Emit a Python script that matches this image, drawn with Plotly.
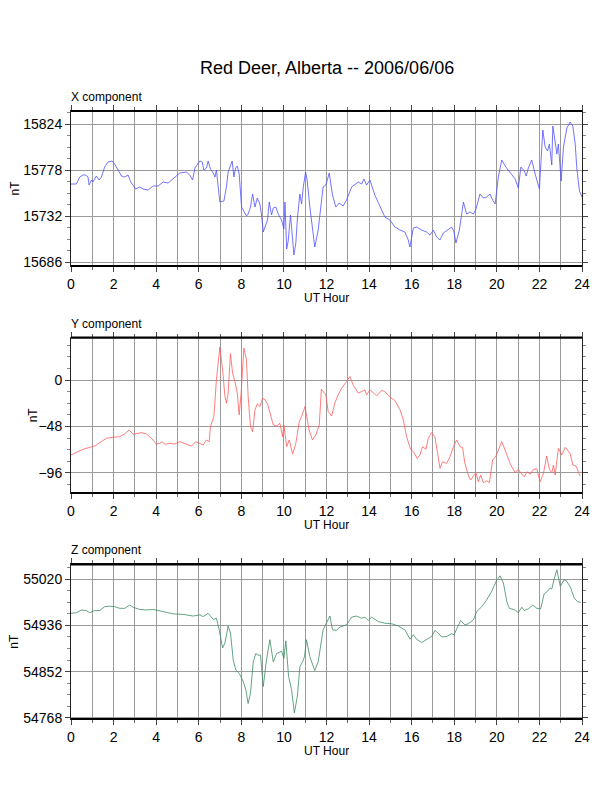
import plotly.graph_objects as go

# --- data (UT hour, nT) ---

x_hours = [0.00, 0.25, 0.41, 0.56, 0.69, 0.80, 0.85, 0.96, 1.03, 1.19, 1.32, 1.43, 1.58, 1.74, 1.93,
           2.05, 2.21, 2.37, 2.52, 2.68, 2.81, 3.04, 3.23, 3.39, 3.62, 3.86, 4.09, 4.33, 4.56, 4.80,
           5.11, 5.42, 5.58, 5.71, 5.82, 6.05, 6.16, 6.24, 6.36, 6.44, 6.55, 6.68, 6.76, 6.83, 6.91,
           6.99, 7.18, 7.30, 7.38, 7.49, 7.57, 7.65, 7.73, 7.81, 7.90, 8.01, 8.09, 8.24, 8.32, 8.43,
           8.53, 8.64, 8.75, 8.87, 8.95, 9.03, 9.11, 9.23, 9.31, 9.42, 9.50, 9.62, 9.73, 9.89, 10.00,
           10.05, 10.13, 10.20, 10.31, 10.41, 10.47, 10.56, 10.64, 10.75, 10.83, 10.91, 11.02, 11.09,
           11.22, 11.45, 11.61, 11.84, 11.97, 12.13, 12.28, 12.44, 12.60, 12.78, 12.94, 13.18, 13.49,
           13.65, 13.76, 13.88, 14.04, 14.27, 14.51, 14.74, 14.98, 15.21, 15.45, 15.68, 15.84, 15.92,
           16.08, 16.23, 16.47, 16.70, 16.86, 17.02, 17.17, 17.33, 17.49, 17.72, 17.88, 17.99, 18.08,
           18.24, 18.43, 18.58, 18.74, 18.90, 19.02, 19.21, 19.37, 19.52, 19.68, 19.80, 19.92, 20.07,
           20.23, 20.39, 20.62, 20.86, 21.01, 21.13, 21.29, 21.38, 21.48, 21.64, 21.80, 22.00, 22.16,
           22.27, 22.38, 22.47, 22.58, 22.63, 22.74, 22.82, 22.89, 23.02, 23.13, 23.29, 23.44, 23.57,
           23.68, 23.76, 23.88, 24.00]
x_nt = [15764, 15764, 15771, 15773, 15773, 15771, 15763, 15768, 15766, 15772, 15768, 15771, 15781, 15786, 15787,
        15784, 15778, 15772, 15771, 15773, 15766, 15759, 15761, 15759, 15758, 15762, 15762, 15766, 15765, 15769,
        15775, 15776, 15773, 15768, 15780, 15787, 15786, 15778, 15780, 15787, 15779, 15775, 15771, 15778, 15758,
        15746, 15747, 15761, 15776, 15783, 15787, 15771, 15780, 15782, 15774, 15741, 15738, 15732, 15734, 15741,
        15754, 15741, 15750, 15744, 15733, 15716, 15721, 15728, 15746, 15733, 15740, 15741, 15734, 15728, 15719,
        15746, 15699, 15707, 15733, 15701, 15693, 15705, 15731, 15754, 15744, 15761, 15776, 15768,
        15741, 15701, 15718, 15761, 15763, 15775, 15753, 15741, 15745, 15742, 15748, 15761, 15766,
        15764, 15769, 15763, 15768, 15753, 15741, 15731, 15728, 15721, 15718, 15716, 15708, 15701,
        15720, 15721, 15718, 15716, 15713, 15718, 15711, 15708, 15715, 15719, 15721, 15716, 15705,
        15718, 15746, 15734, 15736, 15734, 15739, 15754, 15750, 15751, 15754, 15748, 15744, 15771,
        15788, 15782, 15776, 15769, 15760, 15781, 15777, 15772, 15780, 15788, 15774, 15759, 15818,
        15801, 15797, 15804, 15783, 15822, 15806, 15794, 15804, 15767, 15801, 15820, 15826, 15822,
        15804, 15779, 15757, 15751]

y_hours = [0.00, 0.25, 0.56, 0.88, 1.11, 1.35, 1.66, 1.97, 2.29, 2.52, 2.73, 2.92, 3.31, 3.54, 3.78,
           4.01, 4.17, 4.29, 4.40, 4.64, 4.87, 5.11, 5.42, 5.66, 5.86, 6.05, 6.21, 6.36, 6.49, 6.55,
           6.71, 6.83, 6.99, 7.12, 7.23, 7.30, 7.38, 7.49, 7.59, 7.70, 7.81, 7.90, 7.99, 8.12, 8.24,
           8.32, 8.43, 8.53, 8.64, 8.75, 8.87, 9.00, 9.11, 9.23, 9.34, 9.50, 9.66, 9.81, 9.94, 10.00,
           10.13, 10.25, 10.41, 10.56, 10.72, 10.83, 10.99, 11.18, 11.34, 11.50, 11.66, 11.76, 11.97,
           12.08, 12.24, 12.39, 12.55, 12.71, 12.94, 13.10, 13.25, 13.49, 13.65, 13.80, 13.88, 14.04,
           14.19, 14.35, 14.59, 14.74, 14.98, 15.21, 15.45, 15.61, 15.76, 15.95, 16.08, 16.26, 16.39,
           16.51, 16.67, 16.78, 16.94, 17.09, 17.22, 17.33, 17.45, 17.64, 17.80, 17.96, 18.11, 18.27,
           18.39, 18.50, 18.66, 18.77, 18.90, 19.02, 19.13, 19.24, 19.37, 19.52, 19.65, 19.80, 19.96,
           20.23, 20.39, 20.62, 20.86, 21.01, 21.17, 21.29, 21.41, 21.57, 21.72, 21.88, 22.03, 22.19,
           22.34, 22.47, 22.58, 22.66, 22.74, 22.89, 23.05, 23.21, 23.44, 23.57, 23.72, 23.91]
y_nt = [-77.6, -75.2, -71.7, -69.7, -68.3, -64.8, -60.3, -59.3, -58.6, -55.8, -51.6, -56.1, -54.4, -55.8, -60.3,
        -66.2, -65.5, -63.8, -66.5, -65.5, -66.2, -63.8, -66.2, -68.3, -63.8, -65.5, -67.2, -62.0, -63.8, -48.2,
        -37.8, 0.3, 34.3, 10.7, -17.0, -23.9, -13.5, 27.4, 7.3, -1.4, -13.5, -36.0, -13.5, 33.3, 21.1,
        -17.0, -48.2, -53.4, -30.8, -24.6, -27.4, -18.7, -20.4, -24.6, -34.3, -46.4, -47.5, -44.7, -58.6, -46.4,
        -69.0, -62.0, -76.6, -65.5, -43.0, -37.8, -27.4, -51.6, -62.0, -56.8, -46.4, -9.4, -15.3,
        -32.6, -37.1, -23.9, -15.3, -8.3, -1.4, 3.8, -4.9, -13.5, -11.8, -10.1, -15.3, -10.1,
        -12.8, -16.3, -10.7, -11.8, -17.7, -21.1, -30.8, -41.2, -58.6, -71.7, -74.2, -81.1, -77.6,
        -69.0, -71.7, -60.3, -54.4, -58.6, -75.9, -91.5, -84.6, -86.3, -79.4, -69.0, -62.0, -69.0,
        -69.7, -86.3, -98.4, -103.6, -99.5, -96.0, -105.4, -98.4, -106.4, -104.3, -106.4, -82.8, -78.7,
        -63.8, -72.4, -86.3, -96.0, -92.5, -97.4, -100.2, -95.0, -97.4, -92.5, -91.9, -105.4, -96.7,
        -78.7, -92.5, -96.0, -88.0, -98.4, -70.7, -77.6, -69.7, -75.9, -88.0, -89.1, -99.5]

z_hours = [0.00, 0.25, 0.49, 0.72, 0.88, 1.11, 1.35, 1.58, 1.82, 2.05, 2.29, 2.52, 2.76, 2.92, 3.23,
           3.54, 3.86, 4.17, 4.48, 4.80, 5.27, 5.74, 6.05, 6.21, 6.44, 6.68, 6.83, 6.96, 7.12, 7.23,
           7.38, 7.49, 7.62, 7.74, 7.90, 8.09, 8.21, 8.32, 8.43, 8.56, 8.68, 8.79, 8.90, 9.03, 9.18,
           9.34, 9.50, 9.66, 9.89, 10.00, 10.09, 10.22, 10.36, 10.49, 10.63, 10.75, 10.88, 10.97, 11.06,
           11.22, 11.45, 11.61, 11.84, 12.00, 12.16, 12.28, 12.47, 12.63, 12.94, 13.18, 13.41, 13.65,
           13.80, 13.96, 14.12, 14.43, 14.74, 15.06, 15.37, 15.68, 15.92, 16.08, 16.23, 16.47, 16.70,
           16.94, 17.09, 17.25, 17.41, 17.64, 17.88, 17.99, 18.11, 18.30, 18.50, 18.66, 18.90, 19.05,
           19.29, 19.52, 19.76, 19.99, 20.15, 20.31, 20.47, 20.59, 20.86, 21.01, 21.17, 21.29, 21.48,
           21.69, 21.88, 22.06, 22.22, 22.38, 22.51, 22.58, 22.69, 22.82, 22.98, 23.16, 23.29, 23.47,
           23.63, 23.79, 23.94]
z_nt = [54958, 54959, 54964, 54963, 54959, 54963, 54963, 54970, 54971, 54970, 54967, 54967, 54973, 54969, 54965,
        54964, 54965, 54962, 54959, 54957, 54956, 54953, 54955, 54952, 54958, 54947, 54949, 54928, 54895, 54904,
        54935, 54922, 54873, 54855, 54849, 54834, 54819, 54794, 54813, 54870, 54885, 54882, 54882, 54825, 54873,
        54910, 54870, 54885, 54889, 54876, 54908, 54843, 54819, 54777, 54807, 54861, 54870, 54880, 54910,
        54879, 54854, 54870, 54928, 54941, 54953, 54928, 54927, 54933, 54937, 54951, 54953, 54949,
        54951, 54945, 54951, 54943, 54940, 54939, 54935, 54928, 54911, 54919, 54911, 54905, 54910,
        54916, 54927, 54922, 54915, 54916, 54921, 54919, 54929, 54945, 54937, 54939, 54946, 54961,
        54970, 54982, 54998, 55018, 55026, 55013, 54979, 54967, 54964, 54959, 54969, 54963, 54966,
        54973, 54967, 54966, 54993, 54998, 55004, 55002, 55020, 55037, 55007, 55019, 55016, 55004,
        54986, 54979, 54978]

panel_titles = ["X component", "Y component", "Z component"]
line_colors = ["#5050ff", "#ff5c5c", "#3e8c64"]
y_ranges = [[15682, 15837], [-117, 44], [54766, 55047]]
y_tick0 = [15686, 0, 54768]
y_dtick = [46, 48, 84]

W, H = 612, 792
OFF = 8  # the page body adds an 8px margin, so shift everything back


def px_x(p):
    return (p - OFF) / W


def px_y(p):
    return 1 - (p - OFF) / H


# panel frames in screen pixels (top, bottom)
panel_px = [(111, 266), (337.7, 493), (564.3, 719)]
domains = [[px_y(b), px_y(t)] for t, b in panel_px]
x_dom = [px_x(71), px_x(582)]

FONT = "Liberation Sans, Arial, Helvetica, sans-serif"

fig = go.Figure()
series = [(x_hours, x_nt), (y_hours, y_nt), (z_hours, z_nt)]

for i, (hrs, vals) in enumerate(series):
    n = "" if i == 0 else str(i + 1)
    fig.add_trace(go.Scatter(
        x=hrs, y=vals, mode="lines",
        line=dict(color=line_colors[i], width=0.8),
        xaxis="x" + n, yaxis="y" + n, showlegend=False, hoverinfo="skip",
    ))

    fig.update_layout(**{
        "xaxis" + n: dict(
            domain=x_dom, anchor="y" + n, range=[0, 24],
            tick0=0, dtick=2, ticks="outside", ticklen=5, tickcolor="#444",
            showgrid=True, gridcolor="#9a9a9a", gridwidth=1,
            minor=dict(dtick=1, ticks="outside", ticklen=3, tickcolor="#666",
                       showgrid=True, gridcolor="#9a9a9a", gridwidth=1),
            showline=True, linecolor="#222", linewidth=1, mirror="allticks",
            zeroline=False, tickfont=dict(family=FONT, size=14, color="black"),
            automargin=False,
        ),
        "yaxis" + n: dict(
            domain=domains[i], anchor="x" + n, range=y_ranges[i],
            tick0=y_tick0[i], dtick=y_dtick[i], tickformat="d",
            ticks="outside", ticklen=5, tickcolor="#444",
            showgrid=True, gridcolor="#9a9a9a", gridwidth=1,
            minor=dict(dtick=y_dtick[i] / 4, ticks="outside", ticklen=3, tickcolor="#888",
                       showgrid=False),
            showline=True, linecolor="#222", linewidth=1, mirror="allticks",
            zeroline=False, tickfont=dict(family=FONT, size=14, color="black"),
            automargin=False,
        ),
    })

    # heavy top / bottom frame lines like the GMT plot
    for yy in (0, 1):
        fig.add_shape(type="line", xref="x" + n + " domain", yref="y" + n + " domain",
                      x0=0, x1=1, y0=yy, y1=yy, line=dict(color="black", width=2.2))

    top_px, bot_px = panel_px[i]
    fig.add_annotation(text=panel_titles[i], xref="paper", yref="paper",
                       x=px_x(69), y=px_y(top_px - 5), xanchor="left", yanchor="bottom",
                       showarrow=False, font=dict(family=FONT, size=12, color="black"))
    fig.add_annotation(text="UT Hour", xref="paper", yref="paper",
                       x=px_x(326.5), y=px_y(bot_px + 32), xanchor="center", yanchor="middle",
                       showarrow=False, font=dict(family=FONT, size=12, color="black"))

nt_x = [14, 33, 14]
for i in range(3):
    top_px, bot_px = panel_px[i]
    fig.add_annotation(text="nT", xref="paper", yref="paper", textangle=-90,
                       x=px_x(nt_x[i]), y=px_y((top_px + bot_px) / 2),
                       xanchor="center", yanchor="middle",
                       showarrow=False, font=dict(family=FONT, size=12, color="black"))

fig.add_annotation(text="Red Deer, Alberta -- 2006/06/06", xref="paper", yref="paper",
                   x=px_x(326.5), y=px_y(68), xanchor="center", yanchor="middle",
                   showarrow=False, font=dict(family=FONT, size=18, color="black"))

fig.update_layout(
    width=W, height=H,
    margin=dict(l=0, r=0, t=0, b=0),
    paper_bgcolor="white", plot_bgcolor="white",
    template="none",
)

fig.write_html("out.html")
